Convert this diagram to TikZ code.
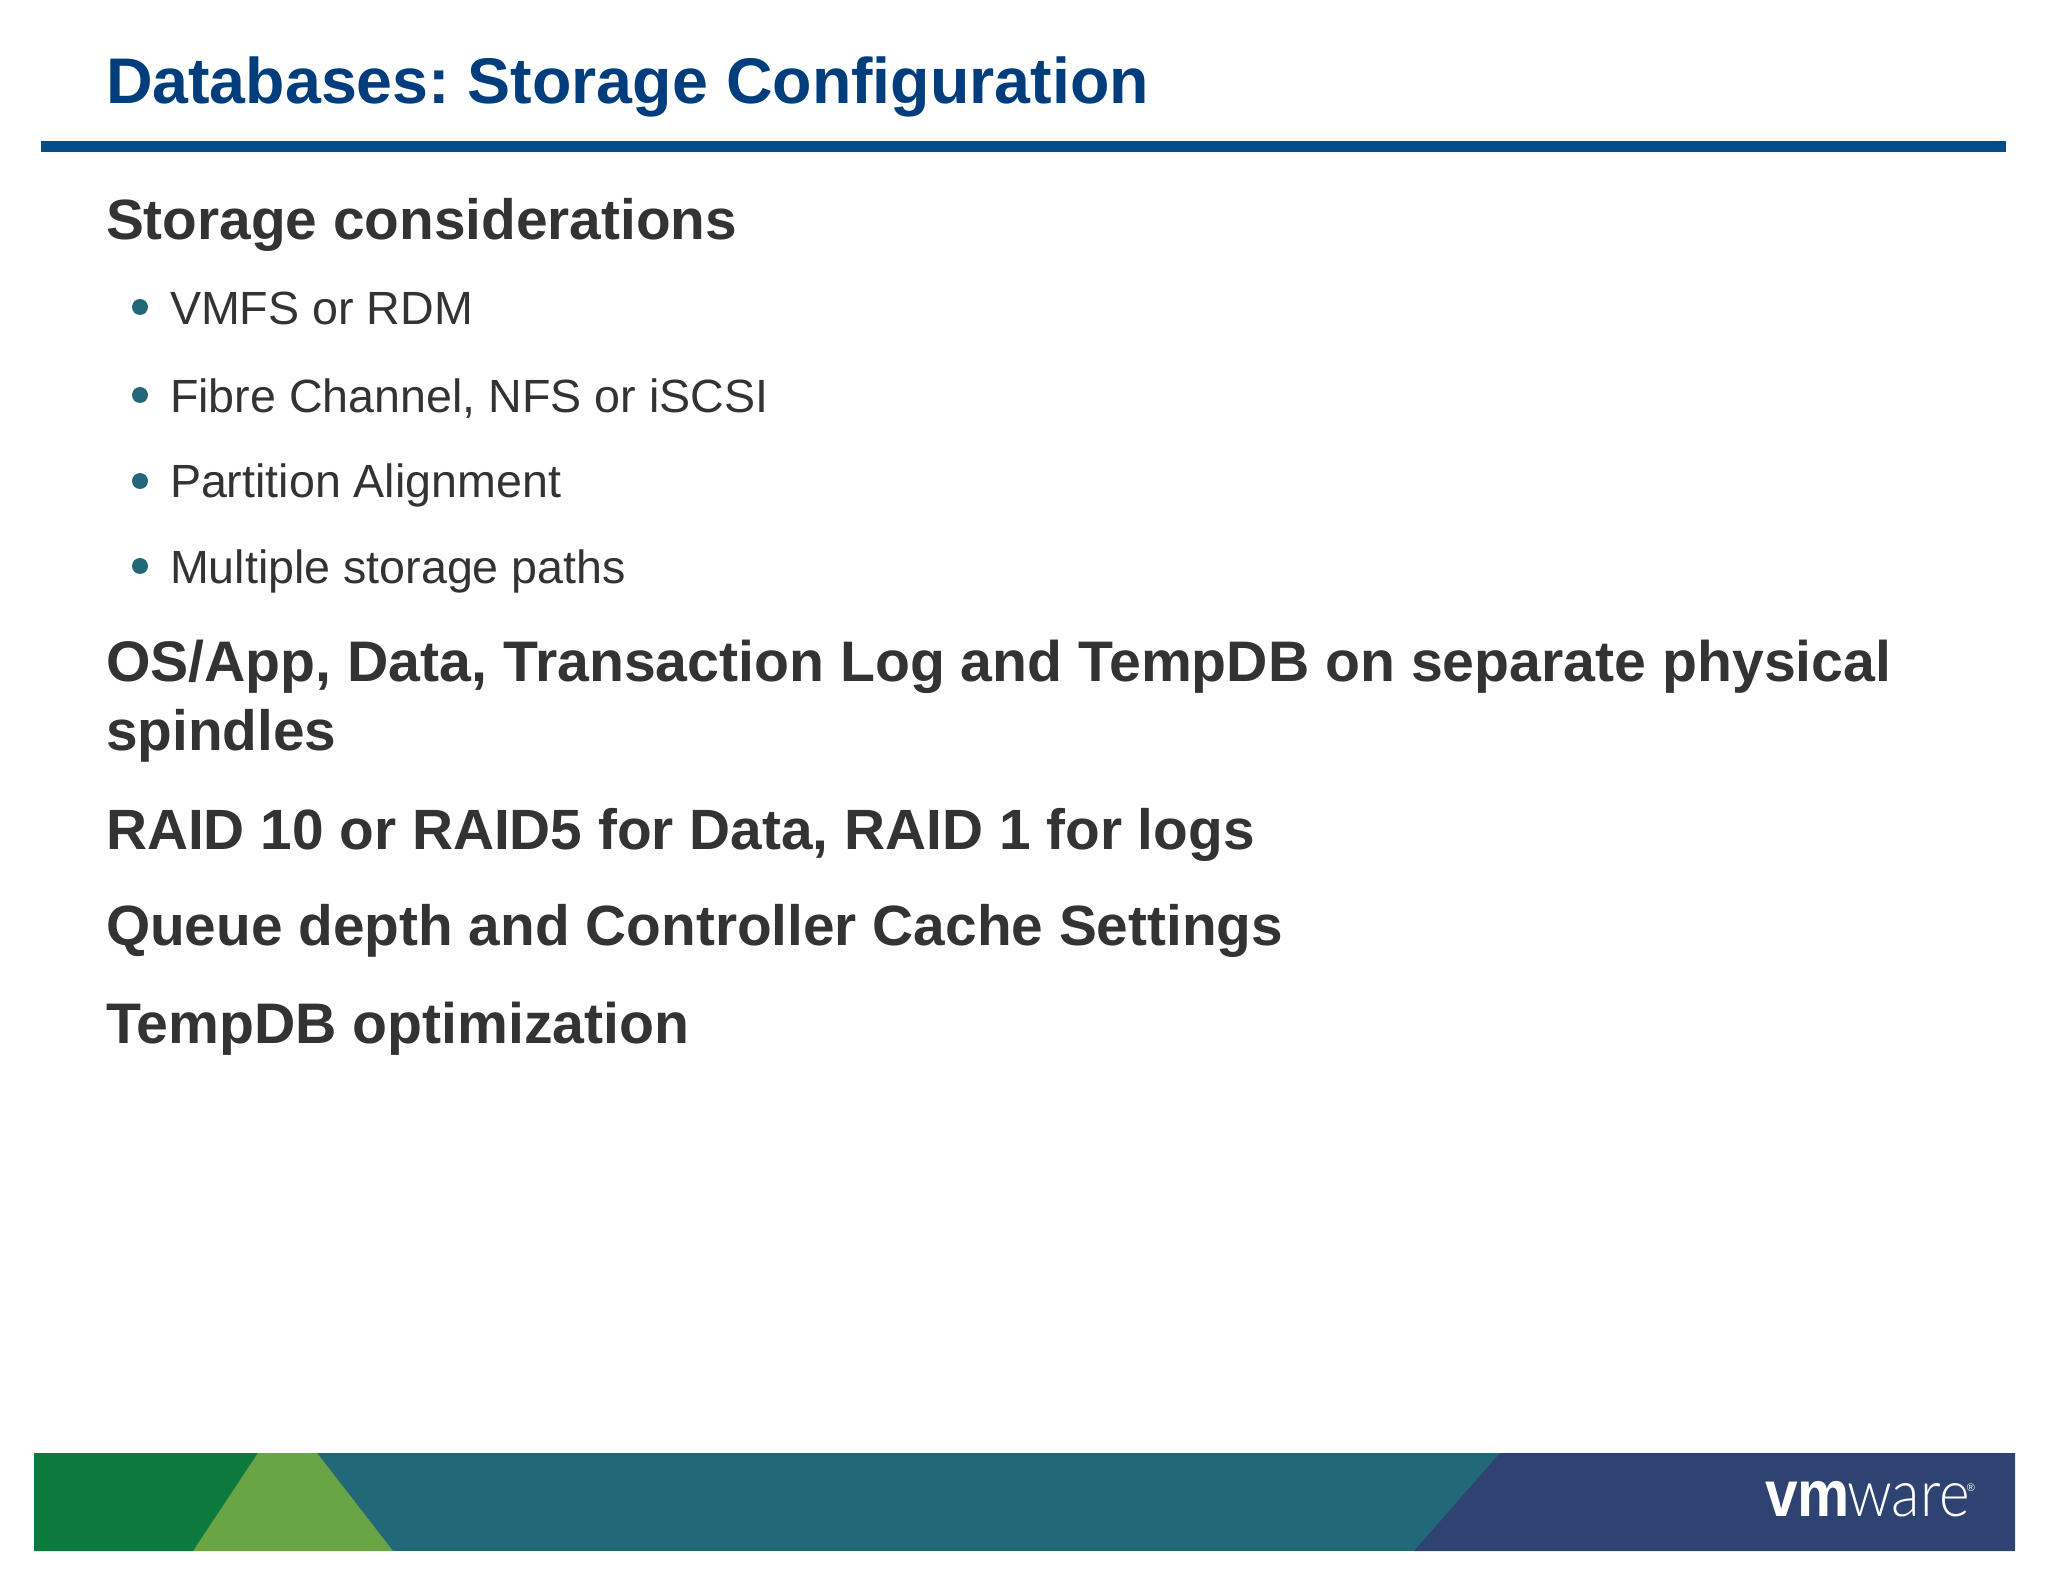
\documentclass[tikz,border=0pt]{standalone}
\usepackage{fontspec}
\setmainfont{Liberation Sans}
\newfontfamily\logolight{Lato Light}
\definecolor{titleblue}{HTML}{003D7C}
\definecolor{rulerblue}{HTML}{034E88}
\definecolor{bodygray}{HTML}{333333}
\definecolor{bandgreen}{HTML}{0C7A3C}
\definecolor{bandlime}{HTML}{69A545}
\definecolor{bandteal}{HTML}{236878}
\definecolor{bandnavy}{HTML}{2F4372}
\tikzset{
  x=0.5pt,y=-0.5pt,
  txt/.style={anchor=base west,inner sep=0pt,outer sep=0pt,text=bodygray},
  slidetitle/.style={txt,text=titleblue,font=\fontsize{32.25}{36}\selectfont\bfseries\frenchspacing},
  head/.style={txt,font=\fontsize{28.4}{34}\selectfont\bfseries},
  headwide/.style={txt,font=\fontsize{28.6}{34}\selectfont\bfseries},
  sub/.style={txt,font=\fontsize{23.3}{28}\selectfont},
  dot/.style={circle,fill=bandteal,inner sep=0pt,minimum size=8pt},
  logotxt/.style={anchor=base west,inner sep=0pt,outer sep=0pt,text=white,xscale=0.9,font=\fontsize{32.6}{34}\selectfont}
}
\begin{document}
\begin{tikzpicture}
\useasboundingbox[fill=white] (0,0) rectangle (2048,1582);
\node[slidetitle] (title) at (106,104) {Databases: Storage Configuration};
\fill[rulerblue] (41,141) rectangle (2006,152);
\node[head] (h1) at (106,240) {Storage considerations};
\node[sub] (s1) at (170,325) {VMFS or RDM};
\node[sub] (s2) at (170,413) {Fibre Channel, NFS or iSCSI};
\node[sub] (s3) at (170,498) {Partition Alignment};
\node[sub] (s4) at (170,583) {Multiple storage paths};
\node[dot] (d1) at (140,307) {};
\node[dot] (d2) at (140,395) {};
\node[dot] (d3) at (140,481) {};
\node[dot] (d4) at (140,566) {};
\node[headwide] (h2) at (106,681) {OS/App, Data, Transaction Log and TempDB on separate physical};
\node[head] (h2b) at (106,750) {spindles};
\node[head] (h3) at (106,849) {RAID 10 or RAID5 for Data, RAID 1 for logs};
\node[head] (h4) at (106,945) {Queue depth and Controller Cache Settings};
\node[headwide] (h5) at (106,1043) {TempDB optimization};
\fill[bandteal] (34,1453) rectangle (2015,1551);
\fill[bandgreen] (34,1453) -- (258,1453) -- (193,1551) -- (34,1551) -- cycle;
\fill[bandlime] (258,1453) -- (317,1453) -- (393,1551) -- (193,1551) -- cycle;
\fill[bandnavy] (1500,1453) -- (2015,1453) -- (2015,1551) -- (1414,1551) -- cycle;
\node[logotxt] (logo) at (1765,1516) {\bfseries vm};
\node[logotxt] (logob) at (1847,1516) {\logolight ware};
\node[anchor=center,inner sep=0pt,text=white,font=\fontsize{5.5}{6}\selectfont] (logoreg) at (1971,1488) {®};
\end{tikzpicture}
\end{document}
